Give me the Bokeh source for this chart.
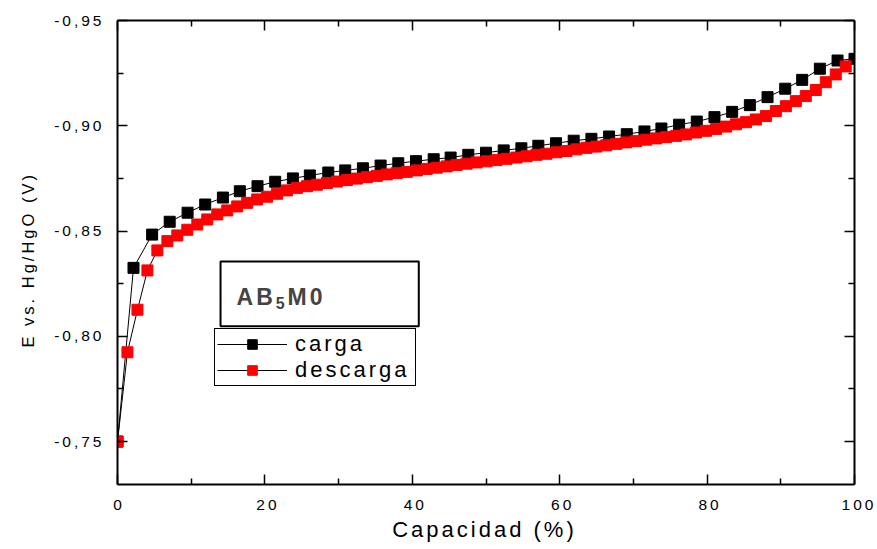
from bokeh.plotting import figure
from bokeh.models import (Range1d, LinearAxis, FixedTicker, Legend, LegendItem,
                          BoxAnnotation, Label, Title)
from bokeh.embed import file_html
from bokeh.resources import INLINE

# ---------------- data ----------------
carga_x = [0, 2.17, 4.70, 7.08, 9.51, 11.9, 14.3, 16.6, 19.0, 21.4, 23.8, 26.1,
           28.6, 30.9, 33.3, 35.7, 38.1, 40.5, 42.9, 45.2, 47.6, 50.0, 52.4,
           54.8, 57.1, 59.5, 61.9, 64.3, 66.7, 69.1, 71.5, 73.8, 76.2, 78.6,
           81.0, 83.4, 85.8, 88.2, 90.6, 92.9, 95.3, 97.7, 100.0]
carga_y = [-0.750, -0.8325, -0.8483, -0.8544, -0.8587, -0.8626, -0.8659, -0.8689,
           -0.8713, -0.8734, -0.8750, -0.8764, -0.8778, -0.8788, -0.8798, -0.8811,
           -0.8822, -0.8832, -0.8841, -0.8849, -0.8862, -0.8872, -0.8883, -0.8893,
           -0.8905, -0.8917, -0.8929, -0.8938, -0.8949, -0.8960, -0.8973, -0.8987,
           -0.9005, -0.9020, -0.9041, -0.9066, -0.9098, -0.9136, -0.9176, -0.9218,
           -0.9271, -0.9310, -0.9318]

descarga_x = [0, 1.35, 2.71, 4.06, 5.41, 6.77, 8.12, 9.47, 10.83, 12.18, 13.54,
              14.89, 16.24, 17.60, 18.95, 20.30, 21.66, 23.01, 24.36, 25.72,
              27.07, 28.42, 29.78, 31.13, 32.48, 33.84, 35.19, 36.55, 37.90,
              39.25, 40.61, 41.96, 43.31, 44.67, 46.02, 47.37, 48.73, 50.08,
              51.43, 52.79, 54.14, 55.50, 56.85, 58.20, 59.56, 60.91, 62.26,
              63.62, 64.97, 66.32, 67.68, 69.03, 70.38, 71.74, 73.09, 74.45,
              75.80, 77.15, 78.51, 79.86, 81.21, 82.57, 83.92, 85.27, 86.63,
              87.98, 89.33, 90.69, 92.04, 93.39, 94.75, 96.10, 97.46, 98.81]
descarga_y = [-0.750, -0.7924, -0.8126, -0.8313, -0.8408, -0.8452, -0.8479, -0.8506,
              -0.8531, -0.8555, -0.8579, -0.8598, -0.8617, -0.8634, -0.8650, -0.8663,
              -0.8677, -0.8693, -0.8705, -0.8713, -0.8720, -0.8728, -0.8735, -0.8742,
              -0.8749, -0.8756, -0.8762, -0.8769, -0.8775, -0.8781, -0.8788, -0.8795,
              -0.8801, -0.8807, -0.8814, -0.8820, -0.8826, -0.8831, -0.8837, -0.8843,
              -0.8849, -0.8855, -0.8862, -0.8867, -0.8874, -0.8880, -0.8888, -0.8895,
              -0.8901, -0.8907, -0.8914, -0.8921, -0.8927, -0.8934, -0.8940, -0.8946,
              -0.8952, -0.8959, -0.8968, -0.8976, -0.8985, -0.8996, -0.9007, -0.9017,
              -0.9030, -0.9046, -0.9070, -0.9093, -0.9117, -0.9141, -0.9170, -0.9207,
              -0.9244, -0.9282]

series_names = ["carga", "descarga"]
series_colors = ["#000000", "#ff0000"]

x_ticks = [0, 20, 40, 60, 80, 100]
x_minor = [10, 30, 50, 70, 90]
x_tick_labels = ["0", "20", "40", "60", "80", "100"]
y_ticks = [-0.95, -0.90, -0.85, -0.80, -0.75]
y_minor = [-0.925, -0.875, -0.825, -0.775]
y_tick_labels = ["-0,95", "-0,90", "-0,85", "-0,80", "-0,75"]

x_title = "Capacidad (%)"
y_title = "E vs. Hg/HgO (V)"
sample_parts = ["AB", "5", "M0"]

FONT = "Liberation Sans"

# ---------------- figure ----------------
p = figure(width=877, height=549, output_backend="svg", toolbar_location=None,
           x_range=Range1d(0, 100), y_range=Range1d(-0.7296, -0.95),
           x_axis_location=None, y_axis_location=None,
           min_border_left=117, min_border_right=23,
           min_border_top=20, min_border_bottom=65)
p.grid.visible = False
p.outline_line_color = None
p.background_fill_color = "white"
p.border_fill_color = "white"
p.stylesheets = [":host { letter-spacing: 3px; }"]


def make_axis(ticks, minor, labels, show, standoff):
    ax = LinearAxis()
    ax.ticker = FixedTicker(ticks=ticks, minor_ticks=minor)
    ax.major_label_overrides = {t: l for t, l in zip(ticks, labels)}
    ax.axis_line_width = 2
    ax.axis_line_color = "black"
    ax.major_tick_in = 10
    ax.major_tick_out = 0
    ax.minor_tick_in = 6
    ax.minor_tick_out = 0
    ax.major_tick_line_width = 1.5
    ax.minor_tick_line_width = 1.5
    ax.major_tick_line_color = "black"
    ax.minor_tick_line_color = "black"
    ax.major_label_text_font = FONT
    if show:
        ax.major_label_text_color = "black"
        ax.major_label_text_font_size = "15.5px"
        ax.major_label_standoff = standoff
    else:
        ax.major_label_text_color = None
        ax.major_label_text_font_size = "0px"
        ax.major_label_standoff = 0
    return ax


p.add_layout(make_axis(x_ticks, x_minor, x_tick_labels, True, 15), "below")
p.add_layout(make_axis(x_ticks, x_minor, x_tick_labels, False, 0), "above")
p.add_layout(make_axis(y_ticks, y_minor, y_tick_labels, True, 28), "left")
p.add_layout(make_axis(y_ticks, y_minor, y_tick_labels, False, 0), "right")

# axis titles (as side titles so they are not clipped to the frame)
p.add_layout(Title(text=x_title, align="left", offset=274.7, vertical_align="top",
                   standoff=9.5, text_font=FONT, text_font_size="22px",
                   text_font_style="normal", text_color="black"), "below")
p.add_layout(Title(text=y_title, align="left", offset=137, vertical_align="bottom",
                   standoff=30, text_font=FONT, text_font_size="16.5px",
                   text_font_style="normal", text_color="black"), "left")

# ---------------- series ----------------
l1 = p.line(carga_x, carga_y, line_color="black", line_width=1)
l2 = p.line(descarga_x, descarga_y, line_color="black", line_width=1)
s1 = p.scatter(carga_x, carga_y, marker="square", size=11,
               fill_color=series_colors[0], line_color=series_colors[0])
s2 = p.scatter(descarga_x, descarga_y, marker="square", size=11,
               fill_color=series_colors[1], line_color=series_colors[1])

legend = Legend(items=[LegendItem(label=series_names[0], renderers=[l1, s1]),
                       LegendItem(label=series_names[1], renderers=[l2, s2])],
                location=(97, 98), padding=2, spacing=0, margin=0,
                glyph_width=70, glyph_height=24, label_height=24,
                label_standoff=8, label_width=118,
                label_text_font=FONT, label_text_font_size="22px",
                label_text_color="black",
                border_line_color="black", border_line_width=1.3,
                border_line_alpha=1,
                background_fill_color="white", background_fill_alpha=1)
p.add_layout(legend)

# ---------------- sample name box ----------------
p.add_layout(BoxAnnotation(left=13.98, right=40.88, top=-0.8355, bottom=-0.8048,
                           fill_alpha=0, line_color="black", line_alpha=1,
                           line_width=2))
p.add_layout(Label(x=16.15, y=-0.8186, text=sample_parts[0], text_font=FONT,
                   text_font_style="bold", text_font_size="23px",
                   text_align="left", text_baseline="alphabetic"))
p.add_layout(Label(x=21.47, y=-0.8160, text=sample_parts[1], text_font=FONT,
                   text_font_style="bold", text_font_size="16px",
                   text_align="left", text_baseline="alphabetic"))
p.add_layout(Label(x=23.08, y=-0.8186, text=sample_parts[2], text_font=FONT,
                   text_font_style="bold", text_font_size="23px",
                   text_align="left", text_baseline="alphabetic"))

open("out.html", "w").write(file_html(p, INLINE))
